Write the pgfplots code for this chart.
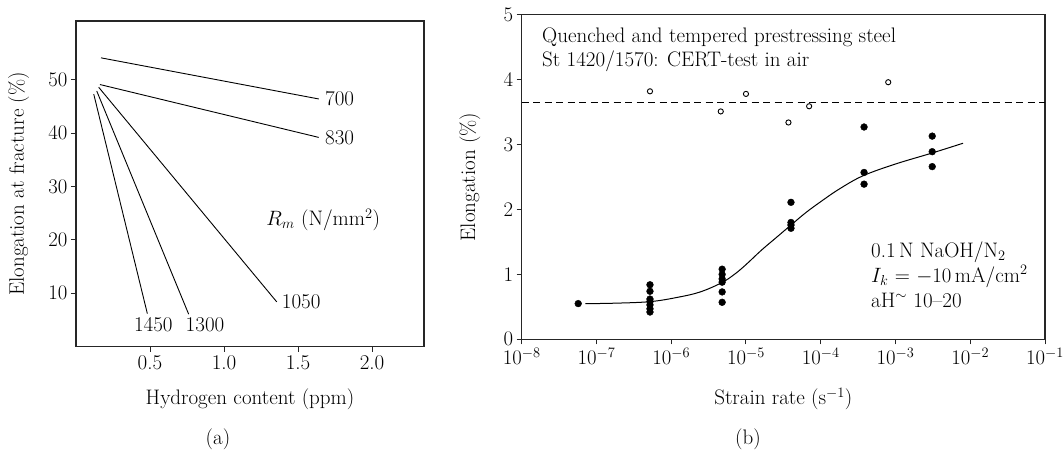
\documentclass[border=0pt]{standalone}
\usepackage{fontspec}
\usepackage{pgfplots}
\pgfplotsset{compat=1.18}
\begin{document}
\begin{tikzpicture}[font=\fontsize{21}{24}\selectfont]
\path[use as bounding box] (0,0) rectangle (1064pt,453pt);
\pgfplotsset{
  myax/.style={
    scale only axis, anchor=south west, clip=false,
    tick align=outside, xtick pos=bottom, ytick pos=left,
    major tick length=5pt,
    axis line style={draw=black!85, line width=1.1pt},
    tick style={draw=black!85, line width=1pt},
    tick label style={font=\fontsize{21}{24}\selectfont},
    label style={font=\fontsize{21}{24}\selectfont},
  }
}
% ---------- panel (a)
\begin{axis}[myax,
  at={(76pt,106.3pt)}, width=348pt, height=325.7pt,
  xmin=0, xmax=2.351, ymin=0, ymax=61,
  xtick={0.5,1,1.5,2}, xticklabels={0.5,1.0,1.5,2.0},
  ytick={10,20,30,40,50},
  xlabel={Hydrogen content (ppm)},
  ylabel={Elongation at fracture (\%)},
  xlabel style={at={(axis description cs:0.5,-0.1606)}, anchor=center},
  ylabel style={at={(axis description cs:-0.165,0.5)}, anchor=center},
]
\addplot[black, line width=0.9pt] coordinates {(0.169,54.1) (1.64,46.4)};
\addplot[black, line width=0.9pt] coordinates {(0.162,49.1) (1.64,39.2)};
\addplot[black, line width=0.9pt] coordinates {(0.153,48.6) (1.356,8.4)};
\addplot[black, line width=0.9pt] coordinates {(0.140,47.9) (0.761,6.1)};
\addplot[black, line width=0.9pt] coordinates {(0.120,47.3) (0.482,6.2)};
\end{axis}
\node[anchor=west, inner sep=0] at (325pt,354.3pt) {700};
\node[anchor=west, inner sep=0] at (325pt,315.7pt) {830};
\node[anchor=west, inner sep=0] at (281.7pt,151.3pt) {1050};
\node[inner sep=0] at (205pt,128pt) {1300};
\node[inner sep=0] at (153.3pt,128pt) {1450};
\node[inner sep=0] at (323.3pt,233pt) {$R_m$ (N/mm$^2$)};
\node at (218pt,14pt) {(a)};
% ---------- panel (b)
\begin{axis}[myax,
  at={(521.7pt,113.7pt)}, width=523.3pt, height=324.6pt,
  xmode=log, log basis x=10, xmin=1e-8, xmax=1e-1, ymin=0, ymax=5,
  xtick={1e-8,1e-7,1e-6,1e-5,1e-4,1e-3,1e-2,1e-1},
  ytick={0,1,2,3,4,5},
  xlabel={Strain rate (s$^{-1}$)},
  ylabel={Elongation (\%)},
  xlabel style={at={(axis description cs:0.5,-0.184)}, anchor=center},
  ylabel style={at={(axis description cs:-0.0988,0.5)}, anchor=center},
]
% reference level in air
\addplot[black, line width=1pt, dash pattern=on 7pt off 4.5pt] coordinates {(1e-8,3.65) (1e-1,3.65)};
% fitted curve
\addplot[black, line width=1pt, smooth, tension=0.6] coordinates {
 (7.1e-8,0.55) (1.6e-7,0.555) (5.2e-7,0.58) (1.26e-6,0.65) (2.45e-6,0.73)
 (4.7e-6,0.87) (7.0e-6,1.00) (1.0e-5,1.15) (1.6e-5,1.37) (2.5e-5,1.56)
 (4.0e-5,1.76) (6.3e-5,1.95) (1.0e-4,2.12) (1.8e-4,2.32) (3.7e-4,2.52)
 (1.0e-3,2.70) (3.1e-3,2.87) (8.0e-3,3.02)};
% CERT in NaOH (filled)
\addplot[only marks, mark=*, mark size=3.4pt, black] coordinates {
 (5.7e-8,0.55)
 (5.2e-7,0.84) (5.2e-7,0.74) (5.2e-7,0.62) (5.2e-7,0.58) (5.2e-7,0.53) (5.2e-7,0.47) (5.2e-7,0.42)
 (4.8e-6,1.08) (4.8e-6,1.00) (4.8e-6,0.93) (4.8e-6,0.88) (4.8e-6,0.73) (4.8e-6,0.57)
 (4.0e-5,2.11) (4.0e-5,1.80) (4.0e-5,1.76) (4.0e-5,1.71)
 (3.8e-4,3.27) (3.8e-4,2.57) (3.8e-4,2.39)
 (3.1e-3,3.13) (3.1e-3,2.89) (3.1e-3,2.66)};
% CERT in air (open)
\addplot[only marks, mark=o, mark size=2.6pt, black, line width=0.9pt] coordinates {
 (5.2e-7,3.82) (4.6e-6,3.51) (1.0e-5,3.78) (3.7e-5,3.34) (7.0e-5,3.59) (8.0e-4,3.96)};
\end{axis}
\node[anchor=base west, inner sep=0] at (542pt,410.3pt) {Quenched and tempered prestressing steel};
\node[anchor=base west, inner sep=0] at (542pt,386.3pt) {St 1420/1570: CERT-test in air};
\node[anchor=base west, inner sep=0] at (871pt,196pt) {0.1\,N NaOH/N$_2$};
\node[anchor=base west, inner sep=0] at (871pt,171pt) {$I_k$ = $-10$\,mA/cm$^2$};
\node[anchor=base west, inner sep=0] at (871pt,146pt) {aH$^{\sim}$ 10--20};
\node at (748pt,14pt) {(b)};
\end{tikzpicture}
\end{document}
